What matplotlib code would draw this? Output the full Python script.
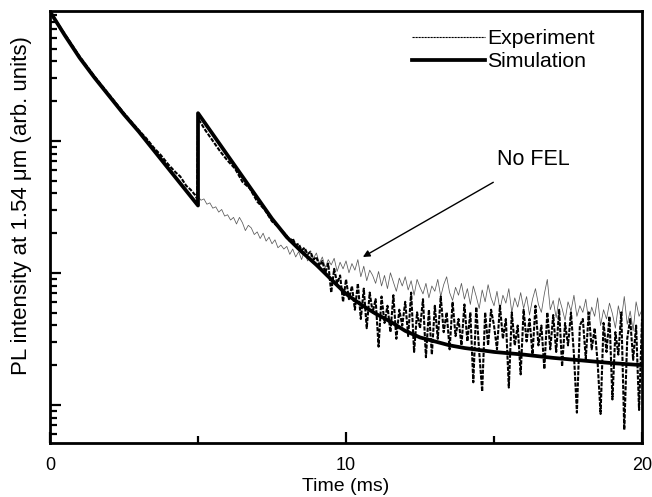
import matplotlib
matplotlib.use("Agg")
import matplotlib.pyplot as plt
import numpy as np
from matplotlib.ticker import NullFormatter, LogLocator, MultipleLocator

plt.rcParams['font.family'] = ['Liberation Sans', 'DejaVu Sans']

# simulation (log10 of intensity)
sim_t = [0.0, 0.5, 1.0, 1.5, 2.0, 2.5, 3.0, 3.5, 4.0, 4.5, 5.0,
         5.0, 5.5, 6.0, 6.5, 7.0, 7.5, 8.0, 8.5, 9.0, 9.5, 10.0, 10.5,
         11.0, 11.5, 12.0, 12.5, 13.0, 13.5, 14.0, 15.0, 16.0, 17.0,
         18.0, 19.0, 20.0]
sim_log = [-0.02, -0.20, -0.37, -0.52, -0.66, -0.80, -0.93, -1.07, -1.21, -1.35, -1.49,
           -0.79, -0.95, -1.11, -1.27, -1.43, -1.59, -1.73, -1.84, -1.94, -2.05, -2.16, -2.24,
           -2.31, -2.37, -2.44, -2.49, -2.52, -2.55, -2.57, -2.60, -2.62, -2.645,
           -2.665, -2.685, -2.70]

# experiment, smooth part before 8 ms
exp_t_early = [0.0, 0.5, 1.0, 1.5, 2.0, 2.5, 3.0, 3.25, 3.5, 3.75, 4.0, 4.25, 4.4,
               4.6, 4.75, 4.9, 4.97, 5.0, 5.25, 5.5, 5.75, 6.0, 6.25, 6.5, 6.75,
               7.0, 7.25, 7.5, 7.75]
exp_log_early = [-0.02, -0.19, -0.36, -0.51, -0.65, -0.79, -0.92, -0.98, -1.05, -1.11,
                 -1.18, -1.24, -1.27, -1.34, -1.37, -1.41, -1.44, -0.83, -0.92, -1.00,
                 -1.08, -1.15, -1.21, -1.31, -1.36, -1.46, -1.52, -1.61, -1.66]

# experiment, noisy part 8-20 ms (0.1 ms steps)
exp_log_late = [
    -1.72, -1.76, -1.74, -1.79, -1.78, -1.83, -1.81, -1.86, -1.84, -1.90,
    -1.88, -1.95, -1.91, -2.00, -1.93, -2.15, -1.97, -2.08, -2.02, -2.22,
    -2.05, -2.20, -2.10, -2.28, -2.08, -2.35, -2.12, -2.42, -2.15, -2.30,
    -2.20, -2.56, -2.18, -2.38, -2.25, -2.45, -2.17, -2.50, -2.28, -2.40,
    -2.22, -2.48, -2.15, -2.60, -2.30, -2.42, -2.20, -2.64, -2.28, -2.62,
    -2.25, -2.50, -2.18, -2.45, -2.30, -2.58, -2.22, -2.48, -2.35, -2.55,
    -2.24, -2.52, -2.30, -2.83, -2.26, -2.60, -2.90, -2.30, -2.55, -2.28,
    -2.40, -2.58, -2.25, -2.50, -2.35, -2.87, -2.30, -2.55, -2.40, -2.77,
    -2.28, -2.52, -2.35, -2.62, -2.25, -2.55, -2.40, -2.73, -2.30, -2.58,
    -2.32, -2.60, -2.28, -2.71, -2.38, -2.55, -2.30, -2.62, -3.06, -2.40,
    -2.35, -2.65, -2.30, -2.58, -2.42, -2.68, -3.07, -2.38, -2.60, -2.33,
    -2.96, -2.45, -2.62, -2.30, -3.19, -2.50, -2.35, -2.66, -2.40, -3.04,
    -2.35]
exp_t_late = np.round(np.arange(8.0, 20.001, 0.1), 1)

# no FEL, 5-20 ms (0.1 ms steps)
nofel_log = [
    -1.42, -1.45, -1.44, -1.48, -1.47, -1.51, -1.50, -1.54, -1.52, -1.57,
    -1.56, -1.60, -1.58, -1.63, -1.58, -1.62, -1.68, -1.64, -1.66, -1.71,
    -1.69, -1.74, -1.70, -1.76, -1.73, -1.78, -1.75, -1.81, -1.79, -1.82,
    -1.80, -1.86, -1.82, -1.88, -1.84, -1.90, -1.83, -1.91, -1.87, -1.89,
    -1.85, -1.93, -1.88, -1.96, -1.90, -1.94, -1.89, -1.99, -1.92, -1.97,
    -1.91, -2.00, -1.93, -1.98, -1.90, -2.03, -1.95, -2.06, -1.98, -2.02,
    -2.08, -1.99, -2.10, -2.02, -2.12, -2.00, -2.07, -2.14, -2.04, -2.10,
    -2.03, -2.13, -2.06, -2.17, -2.05, -2.11, -2.16, -2.08, -2.19, -2.10,
    -2.14, -2.05, -2.18, -2.09, -2.03, -2.15, -2.21, -2.11, -2.17, -2.08,
    -2.20, -2.12, -2.24, -2.10, -2.18, -2.27, -2.13, -2.22, -2.09, -2.19,
    -2.25, -2.14, -2.28, -2.17, -2.23, -2.12, -2.30, -2.19, -2.26, -2.15,
    -2.27, -2.18, -2.32, -2.20, -2.12, -2.24, -2.30, -2.16, -2.05, -2.28,
    -2.21, -2.34, -2.19, -2.27, -2.36, -2.22, -2.29, -2.17, -2.33, -2.25,
    -2.30, -2.20, -2.37, -2.26, -2.33, -2.19, -2.40, -2.28, -2.35, -2.23,
    -2.31, -2.42, -2.25, -2.36, -2.18, -2.39, -2.29, -2.44, -2.22, -2.33,
    -2.28]
nofel_t = np.round(np.arange(5.0, 20.001, 0.1), 1)

exp_t = np.concatenate([exp_t_early, exp_t_late])
exp_log = np.concatenate([exp_log_early, exp_log_late])

fig = plt.figure(figsize=(6.52, 4.97), dpi=100)
ax = fig.add_axes([0.0767, 0.1087, 0.908, 0.8693])

ax.plot(nofel_t, 10 ** np.array(nofel_log), color='0.35', lw=0.55)
ax.plot(exp_t, 10 ** exp_log, color='black', lw=1.5, ls=(0, (2, 0.7)),
        label='Experiment')
ax.plot(sim_t, 10 ** np.array(sim_log), color='black', lw=2.7,
        label='Simulation')

ax.set_yscale('log')
ax.set_xlim(0, 20)
ax.set_ylim(10 ** -3.29, 10 ** -0.015)

ax.xaxis.set_major_locator(MultipleLocator(10))
ax.xaxis.set_minor_locator(MultipleLocator(5))
ax.yaxis.set_major_locator(LogLocator(base=10))
ax.yaxis.set_minor_locator(LogLocator(base=10, subs=np.arange(2, 10)))
ax.yaxis.set_major_formatter(NullFormatter())
ax.yaxis.set_minor_formatter(NullFormatter())

ax.tick_params(which='both', direction='in', top=False, right=False, width=1.6)
ax.tick_params(which='major', length=8, labelsize=13, pad=10)
ax.tick_params(which='minor', length=5)
for sp in ax.spines.values():
    sp.set_linewidth(2.0)

ax.set_xlabel('Time (ms)', fontsize=14, labelpad=3)
ax.set_ylabel('PL intensity at 1.54 \u03bcm (arb. units)', fontsize=16)
ax.yaxis.set_label_coords(-0.030, 0.549)

leg = ax.legend(loc='upper right', bbox_to_anchor=(0.952, 1.002), frameon=False,
                fontsize=15.3, handlelength=3.4, handletextpad=0.1,
                labelspacing=0.2)
leg.get_lines()[0].set_linewidth(0.8)

ax.annotate('No FEL', xy=(10.57, 10 ** -1.88), xytext=(15.1, 10 ** -1.14),
            fontsize=15.5, va='center', ha='left',
            arrowprops=dict(arrowstyle='-|>', color='black', lw=1.0,
                            shrinkA=14, shrinkB=0, mutation_scale=10))

fig.savefig('out.png', dpi=100)
